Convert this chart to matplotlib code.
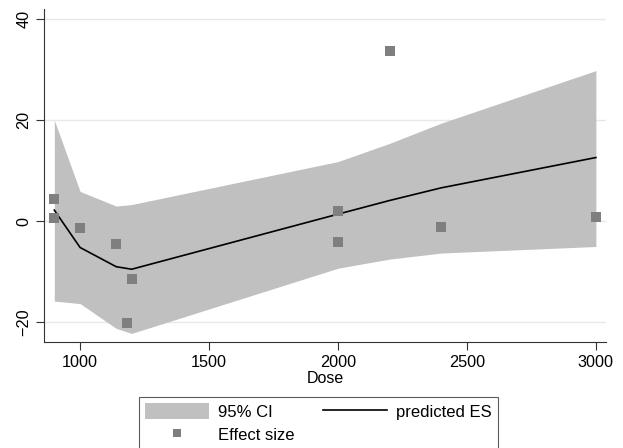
import numpy as np
import matplotlib.pyplot as plt
from matplotlib.patches import Patch
from matplotlib.lines import Line2D

plt.rcParams['font.family'] = ['Liberation Sans', 'DejaVu Sans']

# ============================== DATA ==============================
# observed effect sizes
dose_obs = [900, 900, 1000, 1140, 1200, 1180, 2000, 2000, 2200, 2400, 3000]
es_obs = [4.3, 0.7, -1.4, -4.5, -11.4, -20.2, 2.1, -4.2, 33.7, -1.2, 0.9]

# fitted curve and 95% CI
dose_fit = [900, 1000, 1140, 1200, 2000, 2200, 2400, 3000]
es_fit = [2.2, -5.2, -9.0, -9.5, 1.4, 4.1, 6.6, 12.6]
ci_upper = [20.0, 5.9, 3.0, 3.3, 11.8, 15.4, 19.4, 29.8]
ci_lower = [-15.8, -16.3, -21.2, -22.2, -9.3, -7.5, -6.3, -5.0]

xticks = [1000, 1500, 2000, 2500, 3000]
yticks = [-20, 0, 20, 40]

# ============================== PLOT ==============================
fig = plt.figure(figsize=(6.23, 4.48), dpi=100)
ax = fig.add_axes([0.0706, 0.2366, 0.902, 0.7434])

ax.fill_between(dose_fit, ci_lower, ci_upper, color='#c0c0c0', linewidth=0, zorder=1)
ax.plot(dose_fit, es_fit, color='black', linewidth=1.2, zorder=3)
ax.scatter(dose_obs, es_obs, marker='s', s=42, color='#7f7f7f', linewidths=0, zorder=4)

for y in yticks:
    ax.axhline(y, color='#e8e8e8', linewidth=1.0, zorder=0)

ax.set_xlim(860, 3039)
ax.set_ylim(-23.9, 42.0)
ax.set_xticks(xticks)
ax.set_yticks(yticks)
ax.set_yticklabels([str(v).replace('-', '\u2212') for v in yticks], rotation=90, va='center')
ax.tick_params(labelsize=11.7, length=6, width=0.8, color='#333333', pad=3)
ax.set_xlabel('Dose', fontsize=11.5, labelpad=1)

for s in ['top', 'right']:
    ax.spines[s].set_visible(False)
for s in ['left', 'bottom']:
    ax.spines[s].set_linewidth(0.8)
    ax.spines[s].set_color('#333333')

handles = [Patch(facecolor='#c0c0c0', edgecolor='none'),
           Line2D([], [], linestyle='none', marker='s', markersize=5.5,
                  color='#7f7f7f', markeredgewidth=0),
           Line2D([], [], color='black', linewidth=1.2),
           Line2D([], [], linestyle='none')]
labels = ['95% CI', 'Effect size', 'predicted ES', '']
leg = fig.legend(handles, labels, ncol=2, loc='upper left',
                 bbox_to_anchor=(139 / 623, 1 - 397 / 448),
                 borderaxespad=0,
                 frameon=True, fancybox=False, fontsize=12,
                 handlelength=3.85, handleheight=1.1, columnspacing=1.7,
                 handletextpad=0.54, borderpad=0.36, labelspacing=0.4)
leg.get_frame().set_edgecolor('#333333')
leg.get_frame().set_linewidth(0.8)

fig.savefig('out.png', dpi=100)
